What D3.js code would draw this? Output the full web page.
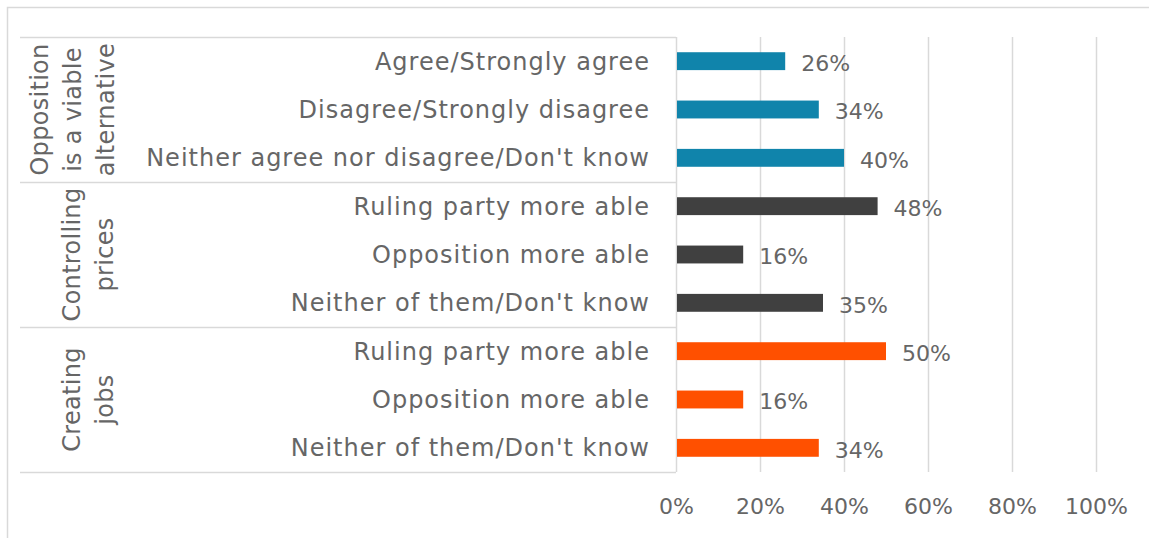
<!DOCTYPE html>
<html>
<head>
<meta charset="utf-8">
<script src="https://cdn.jsdelivr.net/npm/d3@7"></script>
<style>
  body { margin: 0; background: #fff; }
  svg text { font-family: "DejaVu Sans", sans-serif; fill: #666; }
</style>
</head>
<body>
<div class="svg"></div>
<script>
//=============DATA==============//
const groups = [
  {name: ["Opposition", "is a viable", "alternative"], color: "#1084AB"},
  {name: ["Controlling", "prices"], color: "#404040"},
  {name: ["Creating", "jobs"], color: "#FF5000"}
];
const labels = [
  ["Agree/Strongly agree", "Disagree/Strongly disagree", "Neither agree nor disagree/Don't know"],
  ["Ruling party more able", "Opposition more able", "Neither of them/Don't know"],
  ["Ruling party more able", "Opposition more able", "Neither of them/Don't know"]
];
const values = [
  [0.26, 0.34, 0.40],
  [0.48, 0.16, 0.35],
  [0.50, 0.16, 0.34]
];
const ticks = [0, 0.2, 0.4, 0.6, 0.8, 1];

let rows = [];
groups.forEach((g, gi) => {
  labels[gi].forEach((l, i) => {
    rows.push({key: gi + "_" + i, group: gi, label: l, value: values[gi][i], color: g.color});
  });
});

//=============SETUP==============//
const W = 1149, H = 538;
const plot = {left: 676, right: 1096, top: 37, bottom: 472};
const fontSize = 22;

const svg = d3.select(".svg").append("svg")
  .attr("width", W).attr("height", H);

// outer frame
svg.append("path")
  .attr("d", `M7.5,${H} V7.5 H${W}`)
  .attr("fill", "none").attr("stroke", "#d9d9d9").attr("stroke-width", 1.5);

let x = d3.scaleLinear().domain([0, 1]).range([plot.left, plot.right]);
let y = d3.scaleBand()
  .domain(rows.map(d => d.key))
  .range([plot.top, plot.bottom])
  .paddingInner(0.63).paddingOuter(0.315);

// gridlines
svg.append("g").selectAll("line")
  .data(ticks)
  .join("line")
  .attr("x1", d => x(d) + 0.5).attr("x2", d => x(d) + 0.5)
  .attr("y1", plot.top).attr("y2", plot.bottom)
  .attr("stroke", "#d9d9d9").attr("stroke-width", 1.5);

// x axis labels
let xAxis = d3.axisBottom(x).tickValues(ticks).tickFormat(d3.format(".0%")).tickSize(0);
let ax = svg.append("g")
  .attr("transform", `translate(0,${plot.bottom + 23})`)
  .call(xAxis);
ax.select(".domain").remove();
ax.selectAll("text")
  .style("font-size", fontSize + "px")
  .style("font-family", "DejaVu Sans, sans-serif")
  .attr("fill", "#7f7f7f");

// group separators
let half = (y.step() - y.bandwidth()) / 2;
let bounds = groups.map((g, gi) => y(gi + "_0") - half);
bounds.push(plot.bottom);
svg.append("g").selectAll("line")
  .data(bounds)
  .join("line")
  .attr("x1", 20).attr("x2", plot.left)
  .attr("y1", d => d + 0.5).attr("y2", d => d + 0.5)
  .attr("stroke", "#d9d9d9").attr("stroke-width", 1.5);

// bars
svg.append("g").selectAll("rect")
  .data(rows)
  .join("rect")
  .attr("x", x(0) + 1)
  .attr("y", d => y(d.key))
  .attr("width", d => x(d.value) - x(0) - 1)
  .attr("height", y.bandwidth())
  .attr("fill", d => d.color);

// category labels
svg.append("g").selectAll("text")
  .data(rows)
  .join("text")
  .attr("x", plot.left - 26)
  .attr("y", d => y(d.key) + y.bandwidth() / 2)
  .attr("dy", "0.35em")
  .attr("text-anchor", "end")
  .style("font-size", "24px")
  .style("letter-spacing", "1px")
  .text(d => d.label);

// value labels
svg.append("g").selectAll("text")
  .data(rows)
  .join("text")
  .attr("x", d => x(d.value) + 16)
  .attr("y", d => y(d.key) + y.bandwidth() / 2 + 2)
  .attr("dy", "0.35em")
  .style("font-size", fontSize + "px")
  .text(d => d3.format(".0%")(d.value));

// group labels (rotated)
let lineGap = 33;
groups.forEach((g, gi) => {
  let cy = (bounds[gi] + bounds[gi + 1]) / 2;
  let n = g.name.length;
  let cx = n === 3 ? 73 : 88;
  let t = svg.append("text")
    .attr("transform", `translate(${cx},${cy}) rotate(-90)`)
    .attr("text-anchor", "middle")
    .style("font-size", "24px")
    .style("letter-spacing", "0.3px");
  g.name.forEach((line, li) => {
    t.append("tspan")
      .attr("x", 0)
      .attr("y", (li - (n - 1) / 2) * lineGap)
      .attr("dy", "0.35em")
      .text(line);
  });
});
</script>
</body>
</html>
